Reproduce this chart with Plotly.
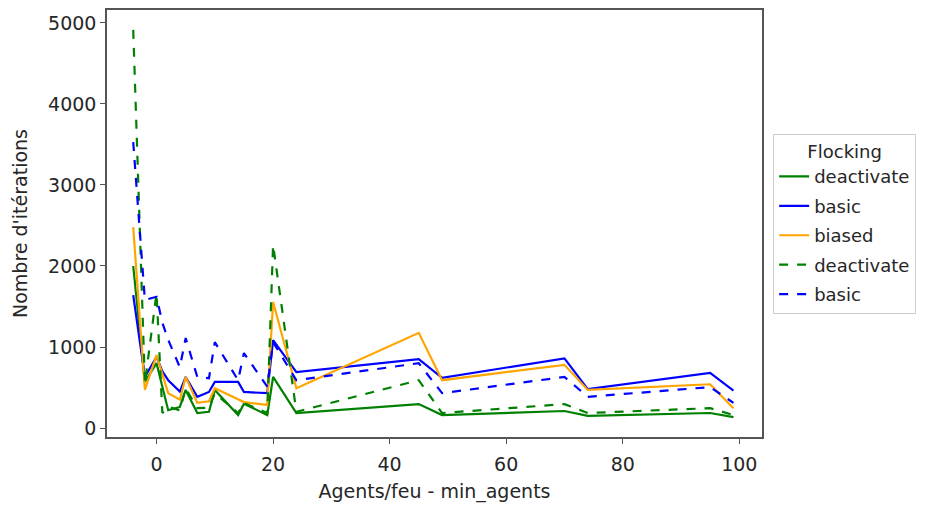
import plotly.graph_objects as go

x_vals = [-4, -2, 0, 1, 2, 4, 5, 7, 9, 10, 14, 15, 19, 20, 24, 45, 49, 70, 74, 95, 99]

deactivate_solid = [2000, 570, 800, 490, 220, 260, 470, 185, 200, 470, 160, 300, 160, 630, 185, 295, 160, 210, 150, 185, 135]
basic_solid = [1640, 630, 880, 700, 590, 450, 630, 385, 445, 570, 570, 445, 430, 1085, 690, 850, 620, 860, 480, 680, 460]
biased_solid = [2480, 470, 900, 650, 430, 350, 630, 310, 330, 490, 350, 320, 285, 1555, 490, 1175, 590, 780, 470, 540, 245]
deactivate_dash = [4915, 550, 1665, 185, 260, 220, 490, 245, 250, 430, 185, 310, 185, 2260, 200, 590, 185, 295, 185, 245, 160]
basic_dash = [3530, 1580, 1620, 1300, 1090, 750, 1110, 630, 615, 1060, 590, 925, 510, 1060, 590, 800, 430, 630, 385, 505, 310]

series = [
    ("deactivate", deactivate_solid, "#008000", "solid"),
    ("basic", basic_solid, "#0000ff", "solid"),
    ("biased", biased_solid, "#ffa500", "solid"),
    ("deactivate", deactivate_dash, "#008000", "dash"),
    ("basic", basic_dash, "#0000ff", "dash"),
]

fig = go.Figure()
for i, (name, vals, col, dash) in enumerate(series):
    fig.add_trace(go.Scatter(
        x=x_vals, y=vals, mode="lines", name=name,
        legendgroup="g%d" % i,
        line=dict(color=col, width=2.2, dash=dash),
    ))

font_family = "DejaVu Sans"
txt = "#262626"
axfs = 19
axis_common = dict(
    showgrid=False, zeroline=False, showline=True, mirror=True,
    linecolor="#555555", linewidth=1.5, automargin=False,
    ticks="outside", ticklen=5, tickcolor="#555555",
    tickfont=dict(family=font_family, size=axfs, color=txt),
)

fig.update_layout(
    width=941, height=505,
    margin=dict(l=107, r=179, t=10, b=68),
    paper_bgcolor="white", plot_bgcolor="white",
    font=dict(family=font_family, size=axfs, color=txt),
    xaxis=dict(range=[-8.5, 103.9], tickvals=[0, 20, 40, 60, 80, 100],
               ticklabelstandoff=4,
               title=dict(text="Agents/feu - min_agents", standoff=11,
                          font=dict(family=font_family, size=axfs, color=txt)),
               **axis_common),
    yaxis=dict(range=[-111, 5160], tickvals=[0, 1000, 2000, 3000, 4000, 5000],
               title=dict(text="Nombre d'itérations", standoff=15,
                          font=dict(family=font_family, size=axfs, color=txt)),
               **axis_common),
    legend=dict(
        x=1.017, y=0.71, xanchor="left", yanchor="top",
        bgcolor="white", bordercolor="#cccccc", borderwidth=1,
        title=dict(text="Flocking", side="top center",
                   font=dict(family=font_family, size=18, color=txt)),
        font=dict(family=font_family, size=18, color=txt),
        tracegroupgap=3, traceorder="grouped",
    ),
    showlegend=True,
)

fig.write_html("out.html")
